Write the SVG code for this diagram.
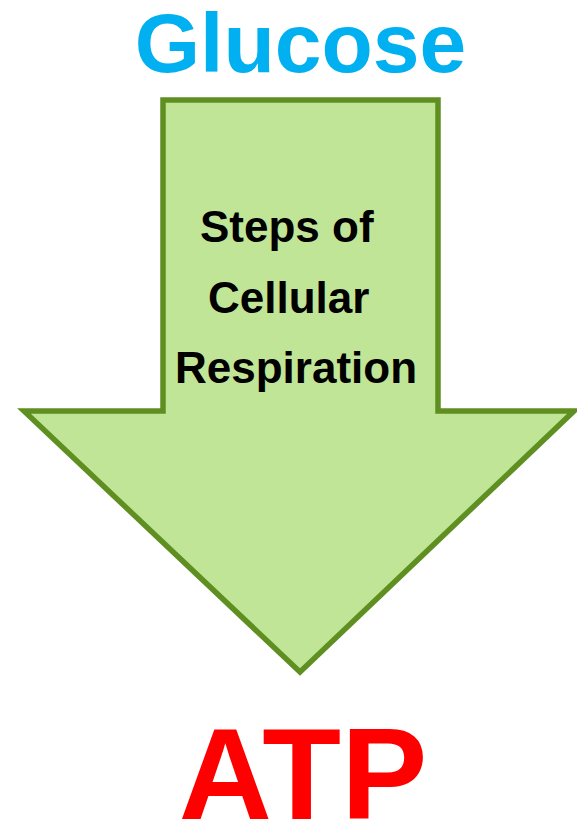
<svg xmlns="http://www.w3.org/2000/svg" width="577" height="822" viewBox="0 0 577 822">
<style>
.t{font-family:"Liberation Sans",Arial,sans-serif;font-weight:bold}
.lbl{font-size:44px;fill:#000}
</style>
<rect width="577" height="822" fill="#fff"/>
<g id="glucose"><text class="t" x="300.5" y="72" font-size="84" fill="#00B0F0" text-anchor="middle">Glucose</text></g>
<g id="arrow">
<polygon points="163,100 438,100 438,411 574,411 300,672 24,411 163,411" fill="#C0E597" stroke="#5F8F21" stroke-width="5.5" stroke-linejoin="miter"/>
<text class="t lbl" x="200" y="242">Steps of</text>
<text class="t lbl" x="208" y="313">Cellular</text>
<text class="t lbl" x="175" y="383">Respiration</text>
</g>
<g id="atp"><text class="t" x="303" y="819" font-size="129" fill="#FF0000" text-anchor="middle">ATP</text></g>
<g id="connectors"/>
</svg>
